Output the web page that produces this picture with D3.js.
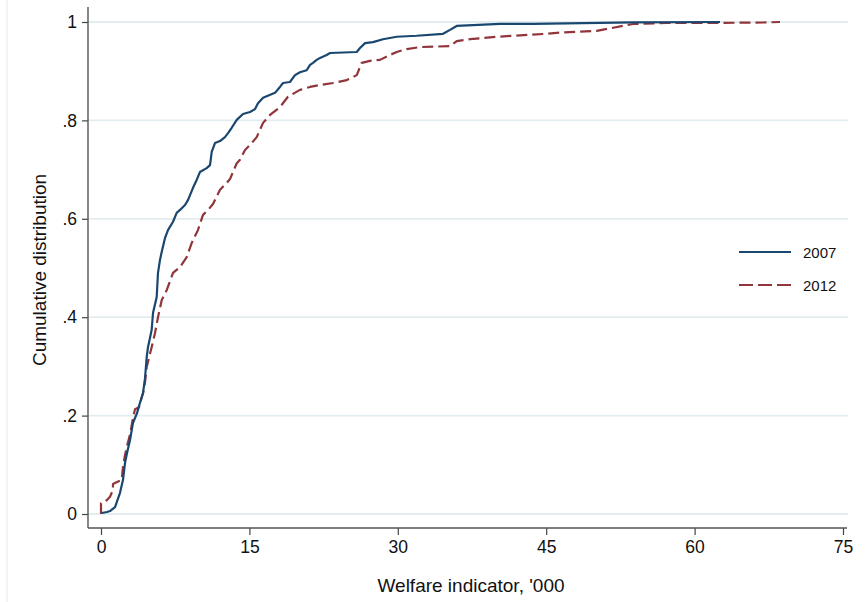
<!DOCTYPE html>
<html>
<head>
<meta charset="utf-8">
<script src="https://cdn.jsdelivr.net/npm/d3@7"></script>
<style>
  html, body { margin: 0; padding: 0; background: #fff; }
  svg { display: block; font-family: "Liberation Sans", Arial, Helvetica, sans-serif; }
</style>
</head>
<body>
<svg id="chart" width="865" height="602"></svg>
<script>
// ---- Data ----
const xTicks = [0, 15, 30, 45, 60, 75];
const yTicks = [0, 0.2, 0.4, 0.6, 0.8, 1];
const yTickLabels = ["0", ".2", ".4", ".6", ".8", "1"];
const seriesNames = ["2007", "2012"];

const x2007 = [0.07,0.61,0.91,1.42,1.92,2.22,2.43,2.63,2.93,3.23,3.64,3.94,4.25,4.45,4.62,4.75,5.12,5.26,5.63,5.76,5.96,6.14,6.47,6.77,7.28,7.65,7.99,8.49,8.79,9.30,9.67,10.0,10.68,11.02,11.19,11.52,12.03,12.53,12.84,13.21,13.72,14.35,15.06,15.57,15.87,16.38,17.59,18.09,18.40,19.10,19.61,20.11,20.79,21.13,21.43,21.80,22.14,22.81,23.15,25.85,26.18,26.69,27.49,28.5,29.89,31.91,34.57,35.28,35.95,40.33,43.67,53.78,62.57];
const y2007 = [0.002,0.004,0.006,0.014,0.043,0.069,0.104,0.124,0.150,0.185,0.205,0.226,0.246,0.276,0.319,0.339,0.374,0.409,0.441,0.490,0.516,0.533,0.561,0.577,0.594,0.612,0.618,0.628,0.638,0.663,0.679,0.695,0.703,0.709,0.736,0.754,0.758,0.766,0.774,0.785,0.801,0.813,0.817,0.823,0.835,0.846,0.856,0.868,0.876,0.878,0.892,0.898,0.902,0.913,0.917,0.923,0.927,0.933,0.937,0.939,0.947,0.957,0.959,0.965,0.970,0.972,0.976,0.984,0.992,0.996,0.996,0.9994,1.0];

const x2012 = [0,0,0.58,0.91,1.21,1.21,1.62,2.09,2.22,2.43,2.60,2.93,3.23,3.44,3.84,4.04,4.25,4.45,4.62,5.12,5.46,5.76,6.14,6.64,7.28,7.99,8.66,9.17,9.80,10.31,10.82,11.32,12.03,12.71,13.04,13.72,14.05,14.56,15.06,15.74,16.38,17.08,18.09,18.90,20.11,21.13,22.14,23.45,24.84,25.85,26.35,27.19,28.20,29.21,29.89,30.90,32.25,35.28,35.95,37.30,40.0,45.05,46.06,50.11,53.78,57.18,61.86,66.92,68.63];
const y2012 = [0,0.022,0.028,0.035,0.049,0.061,0.065,0.069,0.096,0.120,0.136,0.161,0.195,0.213,0.217,0.232,0.246,0.268,0.299,0.339,0.368,0.400,0.435,0.455,0.490,0.502,0.522,0.551,0.577,0.608,0.618,0.630,0.659,0.673,0.681,0.713,0.720,0.740,0.750,0.766,0.795,0.811,0.827,0.848,0.862,0.868,0.872,0.876,0.882,0.892,0.917,0.921,0.923,0.933,0.939,0.945,0.949,0.951,0.961,0.965,0.970,0.976,0.978,0.982,0.996,0.998,0.998,0.999,1.0];

// ---- Layout ----
const svg = d3.select("#chart");
const plotLeft = 88, plotRight = 848, plotTop = 7, plotBottom = 528;
const x = d3.scaleLinear().domain([0, 75]).range([101, 843]);
const y = d3.scaleLinear().domain([0, 1]).range([514, 22]);

const navy = "#1a476f", maroon = "#90353b";

// faint outer region border on the left
svg.append("line").attr("x1", 7).attr("x2", 7).attr("y1", 0).attr("y2", 602)
  .attr("stroke", "#eaf1f3").attr("stroke-width", 1.5);

// gridlines
svg.append("g").selectAll("line").data(yTicks).join("line")
  .attr("x1", plotLeft).attr("x2", plotRight)
  .attr("y1", d => y(d)).attr("y2", d => y(d))
  .attr("stroke", "#e2edf0").attr("stroke-width", 1.8);

// axes
const xAxis = d3.axisBottom(x).tickValues(xTicks).tickSize(7).tickPadding(6).tickFormat(d3.format("d"));
const gx = svg.append("g").attr("transform", `translate(0,${plotBottom})`).call(xAxis);
gx.select(".domain").remove();
gx.selectAll(".tick line").attr("stroke", "#444").attr("stroke-width", 1.2);
gx.selectAll(".tick text").attr("font-size", 17.5).attr("fill", "#111")
  .attr("font-family", "Liberation Sans, Arial, sans-serif");

const yAxis = d3.axisLeft(y).tickValues(yTicks).tickSize(6).tickPadding(5)
  .tickFormat((d, i) => yTickLabels[i]);
const gy = svg.append("g").attr("transform", `translate(${plotLeft},0)`).call(yAxis);
gy.select(".domain").remove();
gy.selectAll(".tick line").attr("stroke", "#444").attr("stroke-width", 1.2);
gy.selectAll(".tick text").attr("font-size", 17.5).attr("fill", "#111")
  .attr("font-family", "Liberation Sans, Arial, sans-serif");

// axis lines
svg.append("line").attr("x1", plotLeft).attr("x2", plotLeft).attr("y1", plotTop).attr("y2", plotBottom)
  .attr("stroke", "#555").attr("stroke-width", 1.4);
svg.append("line").attr("x1", plotLeft).attr("x2", plotRight - 1).attr("y1", plotBottom).attr("y2", plotBottom)
  .attr("stroke", "#555").attr("stroke-width", 1.4);

// axis titles
svg.append("text").attr("x", 471).attr("y", 592).attr("text-anchor", "middle")
  .attr("font-size", 19).attr("fill", "#111").text("Welfare indicator, '000");
svg.append("text").attr("transform", "translate(46,270) rotate(-90)").attr("text-anchor", "middle")
  .attr("font-size", 19).attr("fill", "#111").text("Cumulative distribution");

// curves
const line = d3.line().x(d => x(d[0])).y(d => y(d[1]));
const d2007 = x2007.map((v, i) => [v, y2007[i]]);
const d2012 = x2012.map((v, i) => [v, y2012[i]]);

svg.append("path").datum(d2012).attr("d", line)
  .attr("fill", "none").attr("stroke", maroon).attr("stroke-width", 2.2)
  .attr("stroke-dasharray", "11,5").attr("stroke-linejoin", "round");
svg.append("path").datum(d2007).attr("d", line)
  .attr("fill", "none").attr("stroke", navy).attr("stroke-width", 2.2)
  .attr("stroke-linejoin", "round");

// legend
const legend = svg.append("g");
const legendItems = [
  { name: seriesNames[0], color: navy, dash: null, yy: 252 },
  { name: seriesNames[1], color: maroon, dash: "14,5", yy: 285 }
];
legendItems.forEach(it => {
  legend.append("line").attr("x1", 739).attr("x2", 791).attr("y1", it.yy).attr("y2", it.yy)
    .attr("stroke", it.color).attr("stroke-width", 2.2)
    .attr("stroke-dasharray", it.dash);
  legend.append("text").attr("x", 803).attr("y", it.yy + 6).attr("font-size", 15)
    .attr("fill", "#111").text(it.name);
});
</script>
</body>
</html>
